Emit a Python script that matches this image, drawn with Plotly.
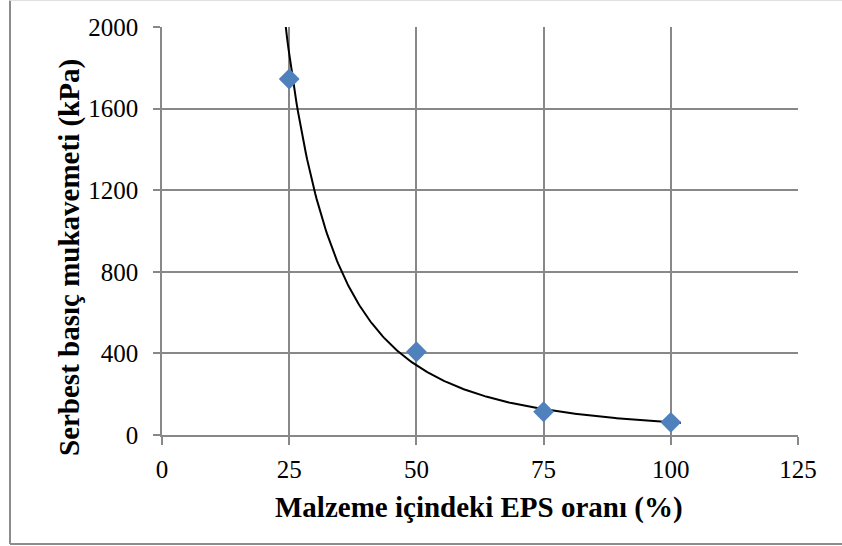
import numpy as np
import plotly.graph_objects as go

# Data
eps_ratio = [25, 50, 75, 100]
strength = [1745, 408, 114, 62]
x_ticks = [0, 25, 50, 75, 100, 125]
y_ticks = [0, 400, 800, 1200, 1600, 2000]

# Power trendline (as in the original spreadsheet chart), forecast 2 units each way
b, ln_a = np.polyfit(np.log(eps_ratio), np.log(strength), 1)
xt = np.linspace(min(eps_ratio) - 2, max(eps_ratio) + 2, 300)
yt = np.exp(ln_a) * xt ** b

W, H = 842, 546
ml, mr, mt, mb = 162, 44, 27, 111
pw, ph = W - ml - mr, H - mt - mb

def px(xp):
    return (xp - ml) / pw

def py(yp):
    return (H - mb - yp) / ph

fig = go.Figure()
fig.add_trace(go.Scatter(x=xt, y=yt, mode="lines",
                         line=dict(color="black", width=2), hoverinfo="skip",
                         showlegend=False))
fig.add_trace(go.Scatter(x=eps_ratio, y=strength, mode="markers",
                         marker=dict(symbol="diamond", size=16, color="#4F81BD",
                                     line=dict(width=0)),
                         showlegend=False))

font_family = "Liberation Serif"
grid = "#888888"
fig.update_layout(
    width=W, height=H,
    margin=dict(l=ml, r=mr, t=mt, b=mb),
    paper_bgcolor="white", plot_bgcolor="white",
    font=dict(family=font_family, color="black", size=25),
    xaxis=dict(range=[0, 125], tickvals=x_ticks, ticks="outside", ticklen=8,
               tickcolor=grid, tickwidth=1.5, showgrid=True, gridcolor=grid,
               gridwidth=1.5, showline=True, linecolor=grid, linewidth=1.5,
               zeroline=False, tickfont=dict(size=25, family=font_family),
               ticklabelstandoff=3),
    yaxis=dict(range=[0, 2000], tickvals=y_ticks, ticks="outside", ticklen=7,
               tickcolor=grid, tickwidth=1.5, showgrid=True, gridcolor=grid,
               gridwidth=1.5, showline=True, linecolor=grid, linewidth=1.5,
               zeroline=False, tickfont=dict(size=25, family=font_family),
               ticklabelstandoff=10),
    annotations=[
        dict(text="<b>Malzeme içindeki EPS oranı (%)</b>", xref="paper", yref="paper",
             x=px(479), y=py(507), xanchor="center", yanchor="middle",
             showarrow=False, font=dict(size=29, family=font_family)),
        dict(text="<b>Serbest basıç mukavemeti (kPa)</b>", xref="paper", yref="paper",
             x=px(69), y=py(258), xanchor="center", yanchor="middle", textangle=-90,
             showarrow=False, font=dict(size=29, family=font_family)),
    ],
    shapes=[
        dict(type="line", xref="paper", yref="paper", x0=px(10), x1=px(10),
             y0=py(0.5), y1=py(544), line=dict(color="#8c8c8c", width=2)),
        dict(type="line", xref="paper", yref="paper", x0=px(10), x1=px(845),
             y0=py(544), y1=py(544), line=dict(color="#8c8c8c", width=2)),
        dict(type="line", xref="paper", yref="paper", x0=px(10), x1=px(845),
             y0=py(0.5), y1=py(0.5), line=dict(color="#e0e0e0", width=1)),
    ],
)

fig.write_html("out.html")
